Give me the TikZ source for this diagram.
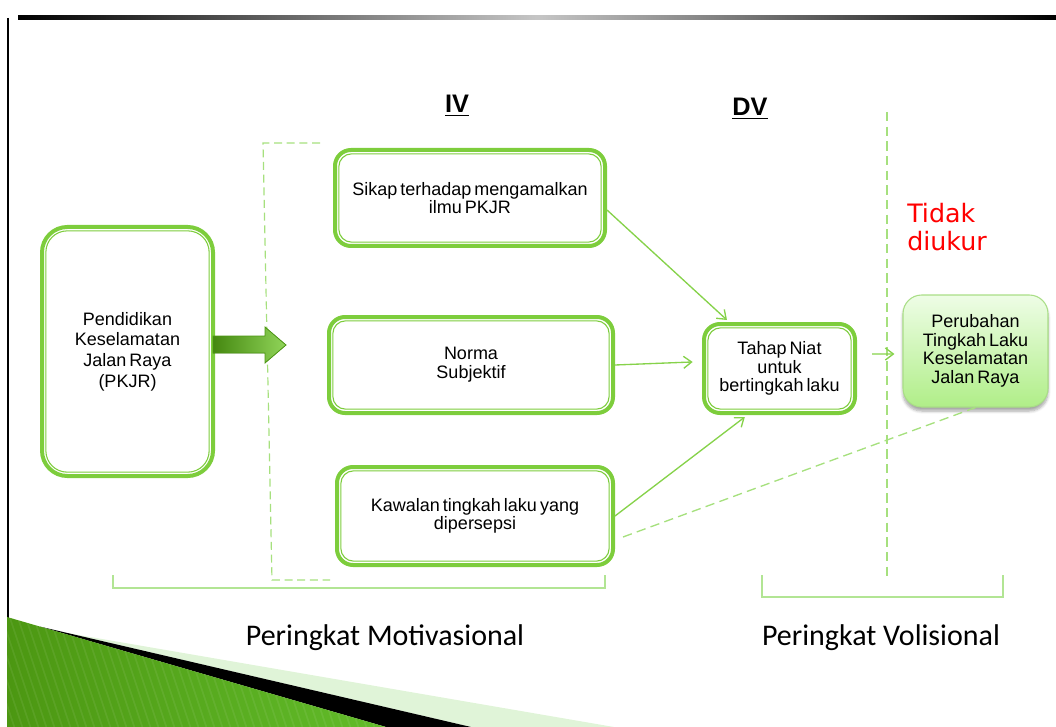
\documentclass[tikz,border=0pt]{standalone}
\usepackage{fontspec}
\setmainfont{Liberation Sans}
\newfontfamily\boxfont{Liberation Sans}[WordSpace=0.6]
\newfontfamily\notefont{DejaVu Sans}
\newfontfamily\levelfont{Carlito}
\usetikzlibrary{arrows.meta,shadows.blur}

\definecolor{boxgreen}{HTML}{7DCD3C}
\definecolor{linegreen}{HTML}{86D24A}
\definecolor{dashgreen}{HTML}{A6E07E}
\definecolor{brackgreen}{HTML}{B2E594}
\definecolor{softborder}{HTML}{A9DE86}
\definecolor{filltop}{HTML}{EEFDE6}
\definecolor{fillbottom}{HTML}{B0EE88}
\definecolor{leafdark}{HTML}{4C9712}
\definecolor{leaflight}{HTML}{8FE35C}
\definecolor{leafmid}{HTML}{62BC2A}
\definecolor{paleband}{HTML}{E0F4D8}

\tikzset{
  stagebox/.style 2 args={draw=boxgreen, fill=white, line width=3pt,
    rounded corners=#1, align=center, inner sep=0pt,
    font=\boxfont\fontsize{13.5}{14}\selectfont,
    path picture={\draw[boxgreen, line width=0.8pt, rounded corners=#2]
      ([shift={(2.9pt,-2.9pt)}]path picture bounding box.north west) rectangle
      ([shift={(-2.9pt,2.9pt)}]path picture bounding box.south east);}},
  resultbox/.style={draw=softborder, line width=0.8pt, rounded corners=14pt,
    top color=filltop, bottom color=fillbottom, align=center, inner sep=0pt,
    font=\boxfont\fontsize{13.5}{14}\selectfont,
    blur shadow={shadow xshift=0pt, shadow yshift=-3pt, shadow blur steps=6, shadow opacity=35}},
  conn/.style={draw=linegreen, line width=1pt,
    -{Straight Barb[length=6pt,width=9pt,line width=1pt]}},
  dashlink/.style={draw=dashgreen, line width=1pt, dash pattern=on 7pt off 4pt},
  bracket/.style={draw=brackgreen, line width=1pt},
  heading/.style={font=\bfseries\fontsize{19}{22}\selectfont, inner sep=0pt},
  level/.style={font=\levelfont\fontsize{22.5}{26}\selectfont, inner sep=0pt},
  note/.style={font=\notefont\fontsize{19}{21}\selectfont, text=red, align=left, inner sep=0pt},
}

\begin{document}
\begin{tikzpicture}[x=0.75pt,y=-0.75pt]
\useasboundingbox (0,0) rectangle (1056,727);

% slide frame: top rule and left rule
\shade[left color=black, right color=black, middle color=gray!45] (18,15.5) rectangle (1056,19.5);
\draw[black, line width=1.9pt] (8,18) -- (8,727);

% corner ornament, bottom left
\fill[paleband] (67,633) -- (614,727) -- (471,727) -- cycle;
\fill[black] (40,626.6) -- (471,727) -- (386,727) -- cycle;
\shade[left color=leafdark, middle color=leaflight, right color=leafmid] (7,617) -- (386,727) -- (7,727) -- cycle;
\begin{scope}
  \clip (7,617) -- (386,727) -- (7,727) -- cycle;
  \foreach \i in {-60,-52,...,400}
    \draw[white, opacity=0.07, line width=1.2pt] (\i,600) -- ++(45,135);
\end{scope}

% headings
\node[heading, anchor=base] (iv) at (457,113) {\underline{IV}};
\node[heading, anchor=base] (dv) at (750,116) {\underline{DV}};

% dashed grouping of the three predictors
\coordinate (gtl) at (263,143);
\coordinate (gtr) at (320,143);
\coordinate (gbl) at (272,580);
\coordinate (gbr) at (330,580);
\draw[dashlink, line width=0.9pt, dash pattern=on 6pt off 3.5pt] (gtr) -- (gtl) -- (gbl) -- (gbr);

% dashed divider before the measured outcome
\coordinate (dtop) at (887,112);
\coordinate (dbot) at (887,580);
\draw[dashlink] (dtop) -- (dbot);

% stage boxes
\node[stagebox={19pt}{16pt}, minimum width=128.25pt, minimum height=186.75pt, font=\boxfont\fontsize{13.5}{15.5}\selectfont]
  (pkjr) at (127.5,351.5) {Pendidikan\\Keselamatan\\Jalan Raya\\(PKJR)};
\node[stagebox={12pt}{9.5pt}, minimum width=202.5pt, minimum height=72pt]
  (sikap) at (470,198) {Sikap terhadap mengamalkan\\ilmu PKJR};
\node[stagebox={12pt}{9.5pt}, minimum width=213pt, minimum height=72pt]
  (norma) at (471,365) {Norma\\Subjektif};
\node[stagebox={12pt}{9.5pt}, minimum width=207pt, minimum height=73.5pt]
  (kawalan) at (475,516) {Kawalan tingkah laku yang\\dipersepsi};
\node[stagebox={12pt}{9.5pt}, minimum width=113.25pt, minimum height=66.75pt]
  (tahap) at (779.5,368.5) {Tahap Niat\\untuk\\bertingkah laku};
\node[resultbox, minimum width=108.75pt, minimum height=84pt]
  (perub) at (975.5,351) {Perubahan\\Tingkah Laku\\Keselamatan\\Jalan Raya};

% block arrow out of the programme box
\filldraw[left color=leafdark!90!black, right color=boxgreen!85!white, draw=leafdark, line width=0.6pt]
  (pkjr.east) ++(-2,-15.5) -- ++(52,0) -- ++(0,-9) -- ++(21,18) -- ++(-21,18)
  -- ++(0,-10) -- ++(-52,0) -- cycle;

% connectors
\draw[conn] ([yshift=-9pt]sikap.east) -- ([xshift=-39.4pt,yshift=1.5pt]tahap.north);
\draw[conn] (norma.east) -- ([xshift=-7pt,yshift=4.9pt]tahap.west);
\draw[conn] (kawalan.east) -- ([xshift=-26pt,yshift=-1.5pt]tahap.south);
\draw[conn] ([xshift=11.25pt,yshift=10.9pt]tahap.east) -- ([xshift=-6pt,yshift=-2.25pt]perub.west);
\draw[dashlink] ([xshift=6pt,yshift=-15.75pt]kawalan.east) -- (perub.south);

% note on the unmeasured outcome
\node[note, anchor=north west] (tidak) at (907,203) {Tidak\\diukur};

% level brackets and labels
\coordinate (b1a) at (113,575);
\coordinate (b1b) at (113,588);
\coordinate (b1c) at (605,588);
\coordinate (b1d) at (605,575);
\draw[bracket] (b1a) -- (b1b) -- (b1c) -- (b1d);
\coordinate (b2a) at (762,575);
\coordinate (b2b) at (762,597);
\coordinate (b2c) at (1003,597);
\coordinate (b2d) at (1003,575);
\draw[bracket] (b2a) -- (b2b) -- (b2c) -- (b2d);

\node[level, anchor=base] (motiv) at (385,645) {Peringkat Motivasional};
\node[level, anchor=base] (volis) at (881,645) {Peringkat Volisional};
\end{tikzpicture}
\end{document}
